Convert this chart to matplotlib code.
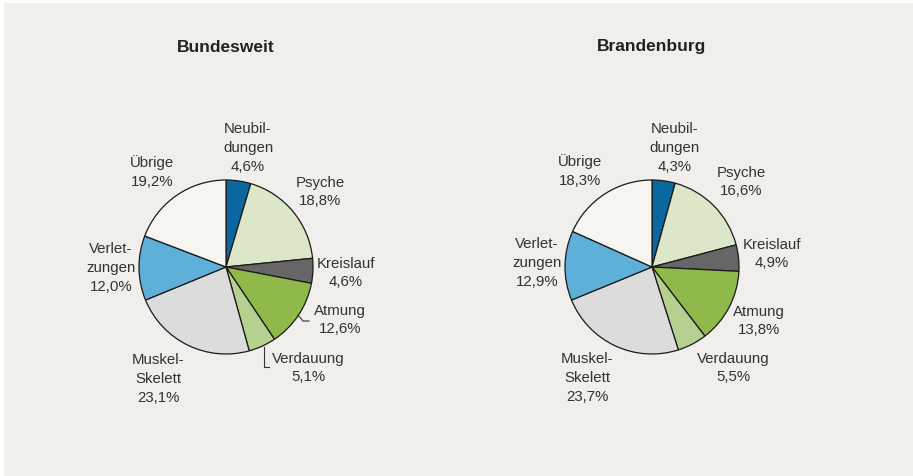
import matplotlib.pyplot as plt
from matplotlib.patches import Rectangle

plt.rcParams['font.family'] = ['Liberation Sans', 'DejaVu Sans']

# data
categories = ['Neubildungen', 'Psyche', 'Kreislauf', 'Atmung', 'Verdauung',
              'Muskel-Skelett', 'Verletzungen', 'Übrige']
label_text = ['Neubil-\ndungen', 'Psyche', 'Kreislauf', 'Atmung', 'Verdauung',
              'Muskel-\nSkelett', 'Verlet-\nzungen', 'Übrige']
bund_values = [4.6, 18.8, 4.6, 12.6, 5.1, 23.1, 12.0, 19.2]
bran_values = [4.3, 16.6, 4.9, 13.8, 5.5, 23.7, 12.9, 18.3]
titles = ['Bundesweit', 'Brandenburg']

colors = ['#0a67a0', '#dce7c9', '#666666', '#8fb94b', '#b4d18f',
          '#dcdcdc', '#5eb0d8', '#f7f5f2']

W, H = 913, 477
BG = '#f1efeb'

# label positions in pixels (x, y from top)
bund_pos = [(248, 148), (320, 192), (346, 273), (340, 320), (308, 368),
            (158, 379), (111, 268), (152, 172)]
bran_pos = [(675, 148), (741, 182), (772, 254), (759, 321), (733, 368),
            (587, 378), (537, 263), (580, 171)]


def fmt(v):
    return f'{v:.1f}'.replace('.', ',') + '%'


def main():
    fig = plt.figure(figsize=(W / 100, H / 100), dpi=100)
    fig.patch.set_facecolor('white')
    ax = fig.add_axes([0, 0, 1, 1])
    ax.set_xlim(0, W)
    ax.set_ylim(0, H)
    ax.set_aspect('equal')
    ax.axis('off')
    ax.add_patch(Rectangle((4, 0), W - 4, H - 4, facecolor=BG, edgecolor='none', zorder=0))

    panels = [
        (bund_values, (226, 268), bund_pos, titles[0]),
        (bran_values, (652, 268), bran_pos, titles[1]),
    ]
    for values, (cx, cy), pos, title in panels:
        ax.pie(values, colors=colors, startangle=90, counterclock=False,
               center=(cx, H - cy), radius=87,
               wedgeprops=dict(edgecolor='#1a1a1a', linewidth=0.9))
        ax.text(cx, H - 47, title, ha='center', va='center',
                fontsize=12.5, fontweight='bold', color='#222222')
        for lab, v, (x, y) in zip(label_text, values, pos):
            ax.text(x, H - y, lab + '\n' + fmt(v), ha='center', va='center',
                    fontsize=10.8, linespacing=1.45, color='#333333')

    # leader lines (left chart)
    ax.plot([298, 303, 309], [H - 316, H - 322, H - 322], color='#333333', lw=0.8)
    ax.plot([264, 264, 269], [H - 348, H - 368, H - 368], color='#333333', lw=0.8)

    ax.set_xlim(0, W)
    ax.set_ylim(0, H)
    fig.savefig('out.png', dpi=100, facecolor=fig.get_facecolor())


if __name__ == "__main__":
    main()
